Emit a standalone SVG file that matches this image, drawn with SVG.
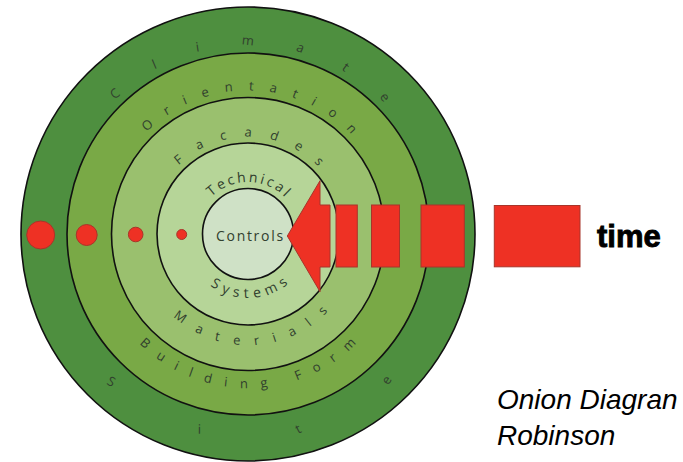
<svg xmlns="http://www.w3.org/2000/svg" width="683" height="462" viewBox="0 0 683 462">
  <style>
    .ring { stroke: #111; stroke-width: 1.6; }
    .lbl { font-family: "Open Sans", "DejaVu Sans", sans-serif; fill: #31402e; font-size: 13px; }
    .lbl2 { font-family: "Open Sans", "DejaVu Sans", sans-serif; fill: #31402e; font-size: 14px; }
    .red { fill: #ee3124; stroke: #a8352a; stroke-width: 1; }
  </style>
  <defs>
    <path id="pClimate" d="M 60 234 A 188 188 0 0 1 436 234"/>
    <path id="pSite" d="M 48 234 A 200 200 0 0 0 448 234"/>
    <path id="pOrient" d="M 104.5 234 A 143.5 143.5 0 0 1 391.5 234"/>
    <path id="pBuild" d="M 94 234 A 154 154 0 0 0 402 234"/>
    <path id="pFacades" d="M 151 234 A 97 97 0 0 1 345 234"/>
    <path id="pMat" d="M 137 234 A 111 111 0 0 0 359 234"/>
    <path id="pTech" d="M 196 234 A 52 52 0 0 1 300 234"/>
    <path id="pSys" d="M 184 234 A 64 64 0 0 0 312 234"/>
  </defs>
  <rect width="683" height="462" fill="#ffffff"/>

  <g id="ring-climate-site">
    <circle class="ring" cx="248" cy="234" r="227" fill="#4e8f3f"/>
    <text class="lbl" letter-spacing="42"><textPath href="#pClimate" startOffset="317.8" text-anchor="middle">Climate</textPath></text>
    <text class="lbl" letter-spacing="95.3"><textPath href="#pSite" startOffset="363" text-anchor="middle">Site</textPath></text>
  </g>
  <g id="ring-orientation-building-form">
    <circle class="ring" cx="248" cy="234" r="181" fill="#79a946"/>
    <text class="lbl" letter-spacing="15.8"><textPath href="#pOrient" startOffset="234.7" text-anchor="middle">Orientation</textPath></text>
    <text class="lbl" letter-spacing="13"><textPath href="#pBuild" startOffset="248.4" text-anchor="middle">Building Form</textPath></text>
  </g>
  <g id="ring-facades-materials">
    <circle class="ring" cx="248" cy="234" r="136.5" fill="#9ac06e"/>
    <text class="lbl" letter-spacing="17.6"><textPath href="#pFacades" startOffset="161.5" text-anchor="middle">Facades</textPath></text>
    <text class="lbl" letter-spacing="14.3"><textPath href="#pMat" startOffset="185" text-anchor="middle">Materials</textPath></text>
  </g>
  <g id="ring-technical-systems">
    <circle class="ring" cx="248" cy="234" r="91" fill="#b6d598"/>
    <text class="lbl2" letter-spacing="2.5"><textPath href="#pTech" startOffset="83" text-anchor="middle">Technical</textPath></text>
    <text class="lbl2" letter-spacing="5"><textPath href="#pSys" startOffset="104.3" text-anchor="middle">Systems</textPath></text>
  </g>
  <g id="core-controls">
    <circle class="ring" cx="248" cy="234" r="45.5" fill="#cfe1c6"/>
    <text class="lbl2" x="250.4" y="241" letter-spacing="1.7" text-anchor="middle">Controls</text>
  </g>

  <g id="dots">
    <circle class="red" cx="40.7" cy="235" r="14"/>
    <circle class="red" cx="86.7" cy="235" r="10.5"/>
    <circle class="red" cx="135.7" cy="234.5" r="7.3"/>
    <circle class="red" cx="181.7" cy="234.5" r="5"/>
  </g>

  <g id="connectors">
    <polygon id="arrow-head" class="red" points="287.3,236 320,180.7 320,205 330,205 330,267 320,267 320,291.7"/>
    <rect class="red" x="336" y="205" width="21.3" height="62"/>
    <rect class="red" x="371.5" y="205" width="28" height="62"/>
    <rect class="red" x="421" y="205" width="43.3" height="62"/>
    <rect class="red" x="494.3" y="205.5" width="85.7" height="61.3"/>
  </g>

  <g id="time-label">
    <text x="597" y="247" font-family="'Liberation Sans', Arial, sans-serif" font-weight="bold" font-size="31" fill="#000" stroke="#000" stroke-width="0.9">time</text>
  </g>
  <g id="caption">
    <text x="497" y="409" font-family="'Liberation Sans', Arial, sans-serif" font-style="italic" font-size="28" fill="#000">Onion Diagran</text>
    <text x="497" y="445" font-family="'Liberation Sans', Arial, sans-serif" font-style="italic" font-size="28" fill="#000">Robinson</text>
  </g>
</svg>
